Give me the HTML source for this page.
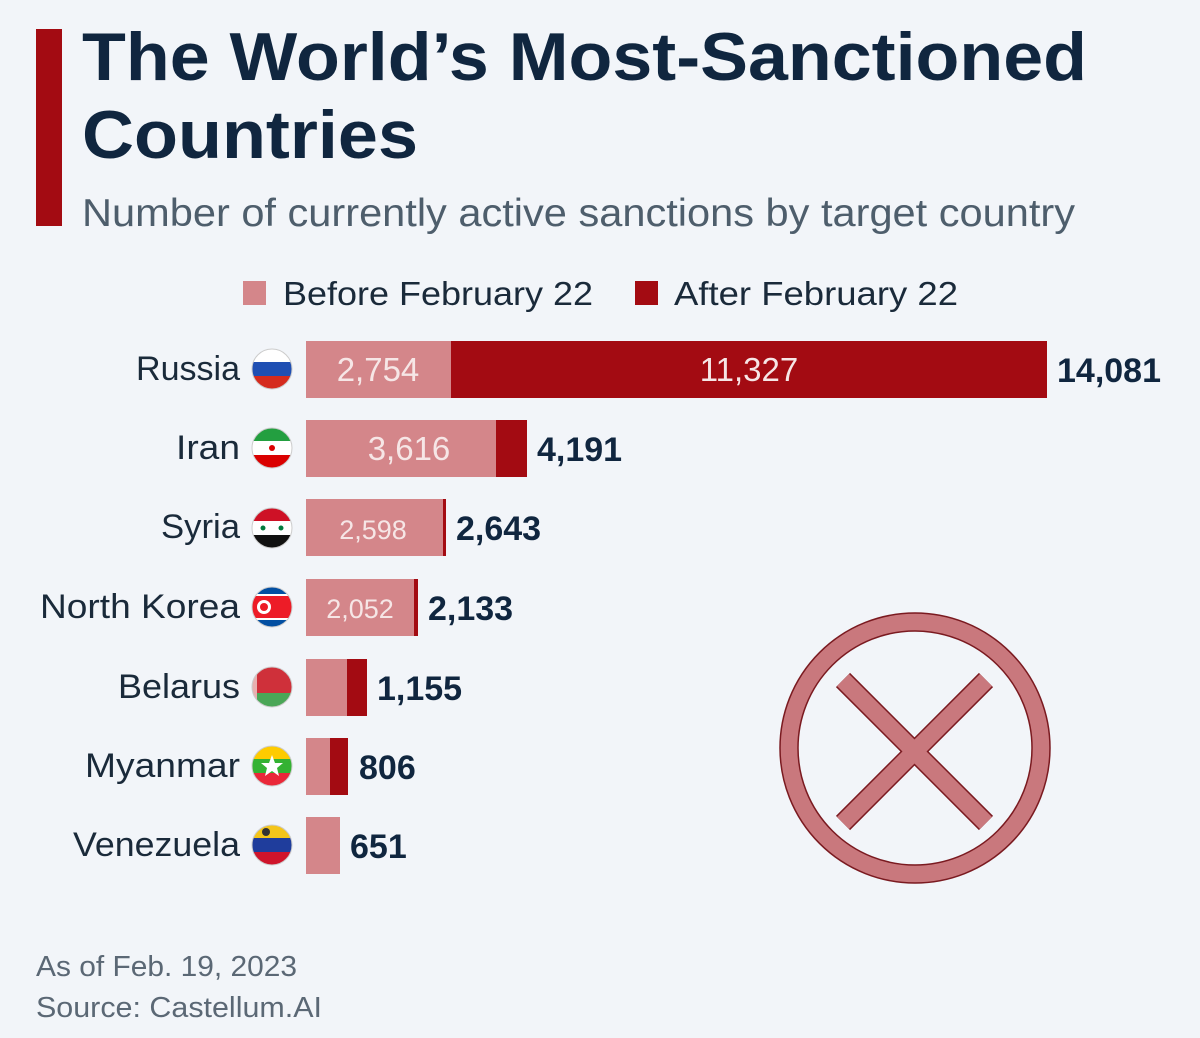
<!DOCTYPE html>
<html><head><meta charset="utf-8"><style>
html,body{margin:0;padding:0;background:#f2f5f9;}
svg{display:block;font-family:"Liberation Sans",sans-serif;}
</style></head><body>
<svg width="1200" height="1038" viewBox="0 0 1200 1038" xmlns="http://www.w3.org/2000/svg">
<rect width="1200" height="1038" fill="#f2f5f9"/>
<rect x="36" y="29" width="26" height="197" fill="#a30b12"/>
<g fill="#10263f" font-weight="bold" font-size="68">
<text x="82" y="80" textLength="1005" lengthAdjust="spacingAndGlyphs">The World’s Most-Sanctioned</text>
<text x="82" y="158" textLength="336" lengthAdjust="spacingAndGlyphs">Countries</text>
</g>
<text x="82" y="226" font-size="39" fill="#4e5e6c" textLength="993" lengthAdjust="spacingAndGlyphs">Number of currently active sanctions by target country</text>
<rect x="243" y="281" width="23" height="24" fill="#d4868a"/>
<text x="283" y="305" font-size="33" fill="#1a2a3a" textLength="310" lengthAdjust="spacingAndGlyphs">Before February 22</text>
<rect x="635" y="281" width="23" height="24" fill="#a30b12"/>
<text x="674" y="305" font-size="33" fill="#1a2a3a" textLength="284" lengthAdjust="spacingAndGlyphs">After February 22</text>

<g font-size="34" fill="#1a2a3a">
<text x="136" y="380" textLength="104" lengthAdjust="spacingAndGlyphs">Russia</text>
<text x="176" y="459" textLength="64" lengthAdjust="spacingAndGlyphs">Iran</text>
<text x="161" y="538" textLength="79" lengthAdjust="spacingAndGlyphs">Syria</text>
<text x="40" y="618" textLength="200" lengthAdjust="spacingAndGlyphs">North Korea</text>
<text x="118" y="698" textLength="122" lengthAdjust="spacingAndGlyphs">Belarus</text>
<text x="85" y="777" textLength="155" lengthAdjust="spacingAndGlyphs">Myanmar</text>
<text x="73" y="856" textLength="167" lengthAdjust="spacingAndGlyphs">Venezuela</text>
</g>

<rect x="306" y="341" width="145" height="57" fill="#d4868a"/>
<rect x="451" y="341" width="596" height="57" fill="#a30b12"/>
<rect x="306" y="420" width="190" height="57" fill="#d4868a"/>
<rect x="496" y="420" width="31" height="57" fill="#a30b12"/>
<rect x="306" y="499" width="137" height="57" fill="#d4868a"/>
<rect x="443" y="499" width="3" height="57" fill="#a30b12"/>
<rect x="306" y="579" width="108" height="57" fill="#d4868a"/>
<rect x="414" y="579" width="4" height="57" fill="#a30b12"/>
<rect x="306" y="659" width="41" height="57" fill="#d4868a"/>
<rect x="347" y="659" width="20" height="57" fill="#a30b12"/>
<rect x="306" y="738" width="24" height="57" fill="#d4868a"/>
<rect x="330" y="738" width="18" height="57" fill="#a30b12"/>
<rect x="306" y="817" width="34" height="57" fill="#d4868a"/>

<g fill="#f6e6e6" text-anchor="middle">
<text x="378" y="381" font-size="33">2,754</text>
<text x="749" y="381" font-size="33">11,327</text>
<text x="409" y="460" font-size="33">3,616</text>
<text x="373" y="539" font-size="27">2,598</text>
<text x="360" y="618" font-size="27">2,052</text>
</g>
<g fill="#10263f" font-weight="bold" font-size="34">
<text x="1057" y="382">14,081</text>
<text x="537" y="461">4,191</text>
<text x="456" y="540">2,643</text>
<text x="428" y="620">2,133</text>
<text x="377" y="700">1,155</text>
<text x="359" y="779">806</text>
<text x="350" y="858">651</text>
</g>

<defs>
<clipPath id="c1"><circle cx="272" cy="369" r="20"/></clipPath>
<clipPath id="c2"><circle cx="272" cy="448" r="20"/></clipPath>
<clipPath id="c3"><circle cx="272" cy="528" r="20"/></clipPath>
<clipPath id="c4"><circle cx="272" cy="607" r="20"/></clipPath>
<clipPath id="c5"><circle cx="272" cy="687" r="20"/></clipPath>
<clipPath id="c6"><circle cx="272" cy="766" r="20"/></clipPath>
<clipPath id="c7"><circle cx="272" cy="845" r="20"/></clipPath>
</defs>
<g clip-path="url(#c1)"><rect x="250" y="349" width="44" height="14" fill="#fff"/><rect x="250" y="362" width="44" height="14" fill="#1f4fb3"/><rect x="250" y="376" width="44" height="14" fill="#d52b1e"/></g>
<g clip-path="url(#c2)"><rect x="250" y="428" width="44" height="14" fill="#239f40"/><rect x="250" y="441" width="44" height="14" fill="#fff"/><rect x="250" y="455" width="44" height="14" fill="#da0000"/><circle cx="272" cy="448" r="3" fill="#da0000"/></g>
<g clip-path="url(#c3)"><rect x="250" y="508" width="44" height="14" fill="#ce1126"/><rect x="250" y="521" width="44" height="14" fill="#fff"/><rect x="250" y="535" width="44" height="14" fill="#111"/><circle cx="263" cy="528" r="2.5" fill="#007a3d"/><circle cx="281" cy="528" r="2.5" fill="#007a3d"/></g>
<g clip-path="url(#c4)"><rect x="250" y="587" width="44" height="42" fill="#024fa2"/><rect x="250" y="594" width="44" height="26" fill="#fff"/><rect x="250" y="596" width="44" height="22" fill="#ed1c27"/><circle cx="264" cy="607" r="7" fill="#fff"/><circle cx="264" cy="607" r="4" fill="#ed1c27"/></g>
<g clip-path="url(#c5)"><rect x="250" y="667" width="44" height="27" fill="#cf303a"/><rect x="250" y="693" width="44" height="16" fill="#4aa657"/><rect x="252" y="667" width="5" height="42" fill="#e8b0b0"/></g>
<g clip-path="url(#c6)"><rect x="250" y="746" width="44" height="14" fill="#fecb00"/><rect x="250" y="759" width="44" height="14" fill="#34b233"/><rect x="250" y="773" width="44" height="14" fill="#ea2839"/><polygon points="272,755 275,763 283,763 277,768 279,776 272,771 265,776 267,768 261,763 269,763" fill="#fff"/></g>
<g clip-path="url(#c7)"><rect x="250" y="825" width="44" height="14" fill="#f4c51a"/><rect x="250" y="838" width="44" height="14" fill="#1f3d9c"/><rect x="250" y="852" width="44" height="14" fill="#cf142b"/><circle cx="266" cy="832" r="4" fill="#333"/></g>
<g fill="none" stroke="#ccc" stroke-width="1">
<circle cx="272" cy="369" r="20"/><circle cx="272" cy="448" r="20"/><circle cx="272" cy="528" r="20"/><circle cx="272" cy="607" r="20"/><circle cx="272" cy="687" r="20"/><circle cx="272" cy="766" r="20"/><circle cx="272" cy="845" r="20"/>
</g>

<circle cx="915" cy="748" r="126" fill="none" stroke="#c9787d" stroke-width="18"/>
<circle cx="915" cy="748" r="135" fill="none" stroke="#7a1a20" stroke-width="1.5"/>
<circle cx="915" cy="748" r="117" fill="none" stroke="#7a1a20" stroke-width="1.5"/>
<g stroke="#7a1a20" stroke-width="20">
<line x1="843" y1="680" x2="986" y2="823"/><line x1="986" y1="680" x2="843" y2="823"/>
</g>
<g stroke="#c9787d" stroke-width="17">
<line x1="843" y1="680" x2="986" y2="823"/><line x1="986" y1="680" x2="843" y2="823"/>
</g>

<g font-size="29" fill="#5b6875">
<text x="36" y="976" textLength="261" lengthAdjust="spacingAndGlyphs">As of Feb. 19, 2023</text>
<text x="36" y="1017" textLength="286" lengthAdjust="spacingAndGlyphs">Source: Castellum.AI</text>
</g>
</svg>
</body></html>
